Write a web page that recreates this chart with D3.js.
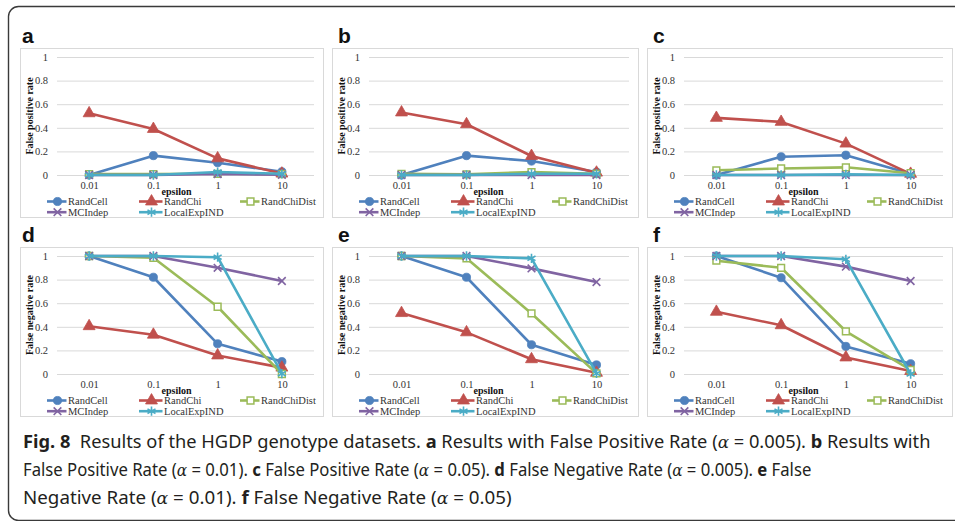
<!DOCTYPE html>
<html><head><meta charset="utf-8">
<script src="https://cdn.jsdelivr.net/npm/d3@7"></script>
<style>body{margin:0;background:#fff;overflow:hidden}</style>
</head><body><svg id="c" width="955" height="521"></svg>
<script>
// ---------- data ----------
const categories = ["0.01", "0.1", "1", "10"];
const seriesNames = ["RandCell", "RandChi", "RandChiDist", "MCIndep", "LocalExpIND"];
const seriesColors = ["#4F81BD", "#C0504D", "#9BBB59", "#8064A2", "#4BACC6"];
const yTicks = [0, 0.2, 0.4, 0.6, 0.8, 1];
const panelLetters = ["a", "b", "c", "d", "e", "f"];
const yTitles = ["False positive rate", "False negative rate"];
const xTitle = "epsilon";

// each panel: one array per series, in seriesNames order
const panelA = [[0, 0.164, 0.104, 0.028], [0.523, 0.39, 0.141, 0.012], [0.008, 0.008, 0.01, 0.008], [0, 0, 0.008, 0.002], [0, 0, 0.025, 0.01]];
const panelB = [[0, 0.164, 0.118, 0.025], [0.53, 0.43, 0.161, 0.02], [0.01, 0.005, 0.025, 0.01], [0, 0, 0, 0], [0, 0, 0.01, 0.01]];
const panelC = [[0, 0.155, 0.168, 0.01], [0.484, 0.45, 0.266, 0.01], [0.04, 0.055, 0.065, 0.015], [0, 0, 0, 0], [0, 0, 0.005, 0]];
const panelD = [[1, 0.82, 0.256, 0.105], [0.405, 0.333, 0.157, 0.054], [1, 0.985, 0.57, 0], [1, 1, 0.9, 0.788], [1, 1, 0.99, 0.003]];
const panelE = [[1, 0.82, 0.248, 0.077], [0.516, 0.353, 0.125, 0.01], [1, 0.98, 0.513, 0.005], [1, 1, 0.895, 0.779], [1, 1, 0.98, 0.005]];
const panelF = [[1, 0.816, 0.234, 0.087], [0.527, 0.413, 0.14, 0.025], [0.96, 0.9, 0.362, 0.034], [1, 1, 0.91, 0.788], [1, 1, 0.972, 0]];
const panels = [panelA, panelB, panelC, panelD, panelE, panelF];

// caption pieces: [text, style] with style "b" bold, "i" italic, "" normal
const captionLines = [
  [["Fig. 8", "b"], ["  Results of the HGDP genotype datasets. ", ""], ["a", "b"], [" Results with False Positive Rate (", ""], ["α", "i"], [" = 0.005). ", ""], ["b", "b"], [" Results with", ""]],
  [["False Positive Rate (", ""], ["α", "i"], [" = 0.01). ", ""], ["c", "b"], [" False Positive Rate (", ""], ["α", "i"], [" = 0.05). ", ""], ["d", "b"], [" False Negative Rate (", ""], ["α", "i"], [" = 0.005). ", ""], ["e", "b"], [" False", ""]],
  [["Negative Rate (", ""], ["α", "i"], [" = 0.01). ", ""], ["f", "b"], [" False Negative Rate (", ""], ["α", "i"], [" = 0.05)", ""]]
];

// ---------- layout ----------
const svg = d3.select("#c");
const boxLefts = [20, 332, 647];
const boxWidths = [303, 306, 305];
const boxTops = [48, 247];
const boxHeight = 169;
const serif = "'Liberation Serif','Times New Roman',serif";
const fs = 10.5;

// outer frame
svg.append("rect").attr("x", 8.5).attr("y", 6.5).attr("width", 1000).attr("height", 514)
  .attr("rx", 10).attr("fill", "none").attr("stroke", "#3a3a3a").attr("stroke-width", 1.4);

const symbolTypes = [d3.symbolCircle, d3.symbolTriangle, d3.symbolSquare, d3.symbolTimes, d3.symbolAsterisk];
const symbolSizes = [52, 62, 46, 40, 60];
function marker(g, i, x, y) {
  const p = g.append("path")
    .attr("d", d3.symbol().type(symbolTypes[i]).size(symbolSizes[i])())
    .attr("transform", `translate(${x},${y})`);
  if (i === 0 || i === 1) p.attr("fill", seriesColors[i]).attr("stroke", seriesColors[i]).attr("stroke-width", 0.8);
  else if (i === 2) p.attr("fill", "#fff").attr("stroke", seriesColors[i]).attr("stroke-width", 1.5);
  else p.attr("fill", "none").attr("stroke", seriesColors[i]).attr("stroke-width", 1.6);
}

panels.forEach((data, pi) => {
  const col = pi % 3, row = Math.floor(pi / 3);
  const bx = boxLefts[col], bw = boxWidths[col], by = boxTops[row];
  const g = svg.append("g");
  // panel letter
  g.append("text").attr("x", bx + (col === 0 ? 2 : 6)).attr("y", by - 5)
    .attr("font-family", "'Liberation Sans',Arial,sans-serif").attr("font-weight", "bold")
    .attr("font-size", 21).attr("fill", "#111").text(panelLetters[pi]);
  // box
  g.append("rect").attr("x", bx + 0.5).attr("y", by + 0.5).attr("width", bw).attr("height", boxHeight)
    .attr("fill", "#fff").attr("stroke", "#d9d9d9").attr("stroke-width", 1);

  const left = bx + 37, right = bx + bw - 9, top = by + 9, bottom = by + 127;
  const x = d3.scalePoint().domain(categories).range([left, right]).padding(0.5);
  const y = d3.scaleLinear().domain([0, 1]).range([bottom, top]);

  // y axis + gridlines
  const ya = g.append("g").attr("transform", `translate(${left},0)`)
    .call(d3.axisLeft(y).tickValues(yTicks).tickFormat(d3.format("~g")).tickSize(-(right - left)).tickPadding(9));
  ya.select(".domain").remove();
  ya.selectAll("line").attr("stroke", "#d9d9d9");
  ya.attr("font-family", serif).attr("font-size", fs);
  ya.selectAll("text").attr("fill", "#333");

  // x axis
  const xa = g.append("g").attr("transform", `translate(0,${bottom})`)
    .call(d3.axisBottom(x).tickSize(0).tickPadding(7));
  xa.select(".domain").remove();
  xa.attr("font-family", serif).attr("font-size", fs);
  xa.selectAll("text").attr("fill", "#333");

  // titles
  g.append("text").attr("transform", `translate(${bx + 12.5},${(top + bottom) / 2}) rotate(-90)`)
    .attr("text-anchor", "middle").attr("font-family", serif).attr("font-weight", "bold")
    .attr("font-size", 10).attr("fill", "#111").text(yTitles[row]);
  g.append("text").attr("x", left + 119.5).attr("y", bottom + 19.5).attr("text-anchor", "middle")
    .attr("font-family", serif).attr("font-weight", "bold").attr("font-size", 10).attr("fill", "#111").text(xTitle);

  // series
  const line = d3.line().x((d, k) => x(categories[k])).y(d => y(d));
  data.forEach((vals, si) => {
    g.append("path").attr("d", line(vals)).attr("fill", "none")
      .attr("stroke", seriesColors[si]).attr("stroke-width", 2.6).attr("stroke-linejoin", "round");
    vals.forEach((v, k) => marker(g, si, x(categories[k]), y(v)));
  });

  // legend
  const textX = [48, 144, 241];
  const lineStart = [27, 119, 220];
  seriesNames.forEach((name, si) => {
    const c = si % 3, r = Math.floor(si / 3);
    const ly = bottom + 26.5 + r * 10.7;
    g.append("line").attr("x1", bx + lineStart[c]).attr("x2", bx + textX[c] - 1.5)
      .attr("y1", ly).attr("y2", ly).attr("stroke", seriesColors[si]).attr("stroke-width", 2.6);
    marker(g, si, bx + (lineStart[c] + textX[c]) / 2, ly);
    g.append("text").attr("x", bx + textX[c]).attr("y", ly + 3.6)
      .attr("font-family", serif).attr("font-size", fs).attr("fill", "#333").text(name);
  });
});

// caption (natural text, scaled horizontally to the reference's condensed width)
const capFont = "'Noto Sans','Open Sans',sans-serif";
const capY = [448, 476, 504];
const capLen = [908, 789, 489];
captionLines.forEach((parts, li) => {
  const t = svg.append("text").attr("x", 0).attr("y", 0)
    .attr("font-family", capFont).attr("font-size", 18.5).attr("fill", "#231f20")
    .style("white-space", "pre");
  parts.forEach(([s, st]) => {
    const ts = t.append("tspan").text(s);
    if (st === "b") ts.attr("font-weight", "bold");
    if (st === "i") ts.attr("font-style", "italic").attr("font-family", "'DejaVu Serif','Liberation Serif',serif").attr("font-size", 17);
  });
  const w = t.node().getComputedTextLength();
  t.attr("transform", `translate(23,${capY[li]}) scale(${capLen[li] / w},1)`);
});
</script>
</body></html>
